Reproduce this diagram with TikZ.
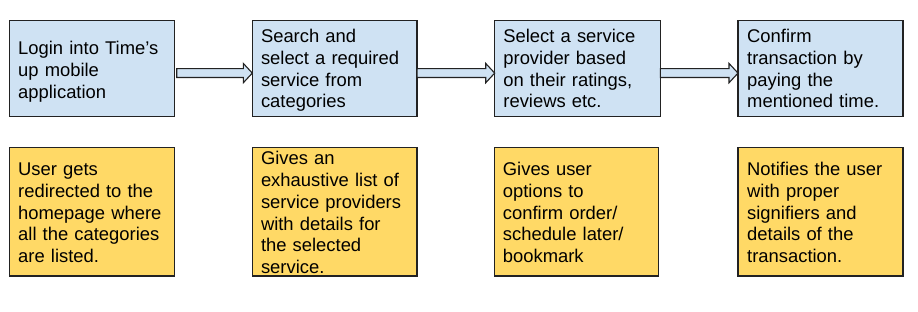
\documentclass[tikz,border=0pt]{standalone}
\usepackage{fontspec}
\setmainfont{Liberation Sans}
\usetikzlibrary{calc}
\definecolor{stepblue}{HTML}{CFE2F3}
\definecolor{noteyellow}{HTML}{FFD966}
\definecolor{edgegray}{HTML}{222222}
\begin{document}
\begin{tikzpicture}[x=1pt,y=1pt,
  box/.style={draw=edgegray, line width=1.2pt, inner sep=0pt, outer sep=0pt, anchor=north west},
  stepbox/.style={box, fill=stepblue, minimum height=95.8pt},
  notebox/.style={box, fill=noteyellow, minimum height=128.7pt},
  txt/.style={anchor=base west, inner sep=0pt, text width=160pt, align=left,
    font=\fontsize{18.4}{21.7}\selectfont},
  blockarrow/.style={draw=edgegray, line width=1.1pt, fill=stepblue, line join=miter,
    to path={let \p1=(\tikztostart), \p2=(\tikztotarget) in
      (\x1,\y1+4.4pt) -- (\x2-9pt,\y1+4.4pt) -- (\x2-9pt,\y1+9.7pt) -- (\x2,\y1)
      -- (\x2-9pt,\y1-9.7pt) -- (\x2-9pt,\y1-4.4pt) -- (\x1,\y1-4.4pt) -- cycle}}
]
% page frame
\path[use as bounding box, fill=white] (0,0) rectangle (918,-312);

% process steps
\node[stepbox, minimum width=164.8pt] (s1) at (9.5,-20.5) {};
\node[stepbox, minimum width=164.7pt] (s2) at (252.3,-20.5) {};
\node[stepbox, minimum width=165.6pt] (s3) at (494.7,-20.5) {};
\node[stepbox, minimum width=165pt]   (s4) at (738,-20.5) {};

% system responses
\node[notebox, minimum width=164.8pt] (n1) at (9.5,-147.3) {};
\node[notebox, minimum width=164.7pt] (n2) at (252.3,-147.3) {};
\node[notebox, minimum width=164.3pt] (n3) at (494.2,-147.3) {};
\node[notebox, minimum width=165pt]   (n4) at (738,-147.3) {};

% step texts
\node[txt] (s1t) at ($(s1.north west)+(8.5,-34.4)$) {Login into Time’s\\up mobile\\application};
\node[txt] (s2t) at ($(s2.north west)+(8.5,-22.2)$) {Search and\\select a required\\service from\\categories};
\node[txt] (s3t) at ($(s3.north west)+(8.5,-22.2)$) {Select a service\\provider based\\on their ratings,\\reviews etc.};
\node[txt] (s4t) at ($(s4.north west)+(9,-22.2)$) {Confirm\\transaction by\\paying the\\mentioned time.};

% response texts
\node[txt] (n1t) at ($(n1.north west)+(8.5,-28.4)$) {User gets\\redirected to the\\homepage where\\all the categories\\are listed.};
\node[txt] (n2t) at ($(n2.north west)+(8.5,-17.7)$) {Gives an\\exhaustive list of\\service providers\\with details for\\the selected\\service.};
\node[txt] (n3t) at ($(n3.north west)+(8.5,-28.4)$) {Gives user\\options to\\confirm order/\\schedule later/\\bookmark};
\node[txt] (n4t) at ($(n4.north west)+(9,-28.4)$) {Notifies the user\\with proper\\signifiers and\\details of the\\transaction.};

% block arrows between steps
\draw[blockarrow] ($(s1.east)+(2.4,-4.7)$) to ($(s2.west)+(0,-4.7)$);
\draw[blockarrow] ($(s2.east)+(0,-4.7)$) to ($(s3.west)+(0,-4.7)$);
\draw[blockarrow] ($(s3.east)+(0,-4.7)$) to ($(s4.west)+(0,-4.7)$);
\end{tikzpicture}
\end{document}
